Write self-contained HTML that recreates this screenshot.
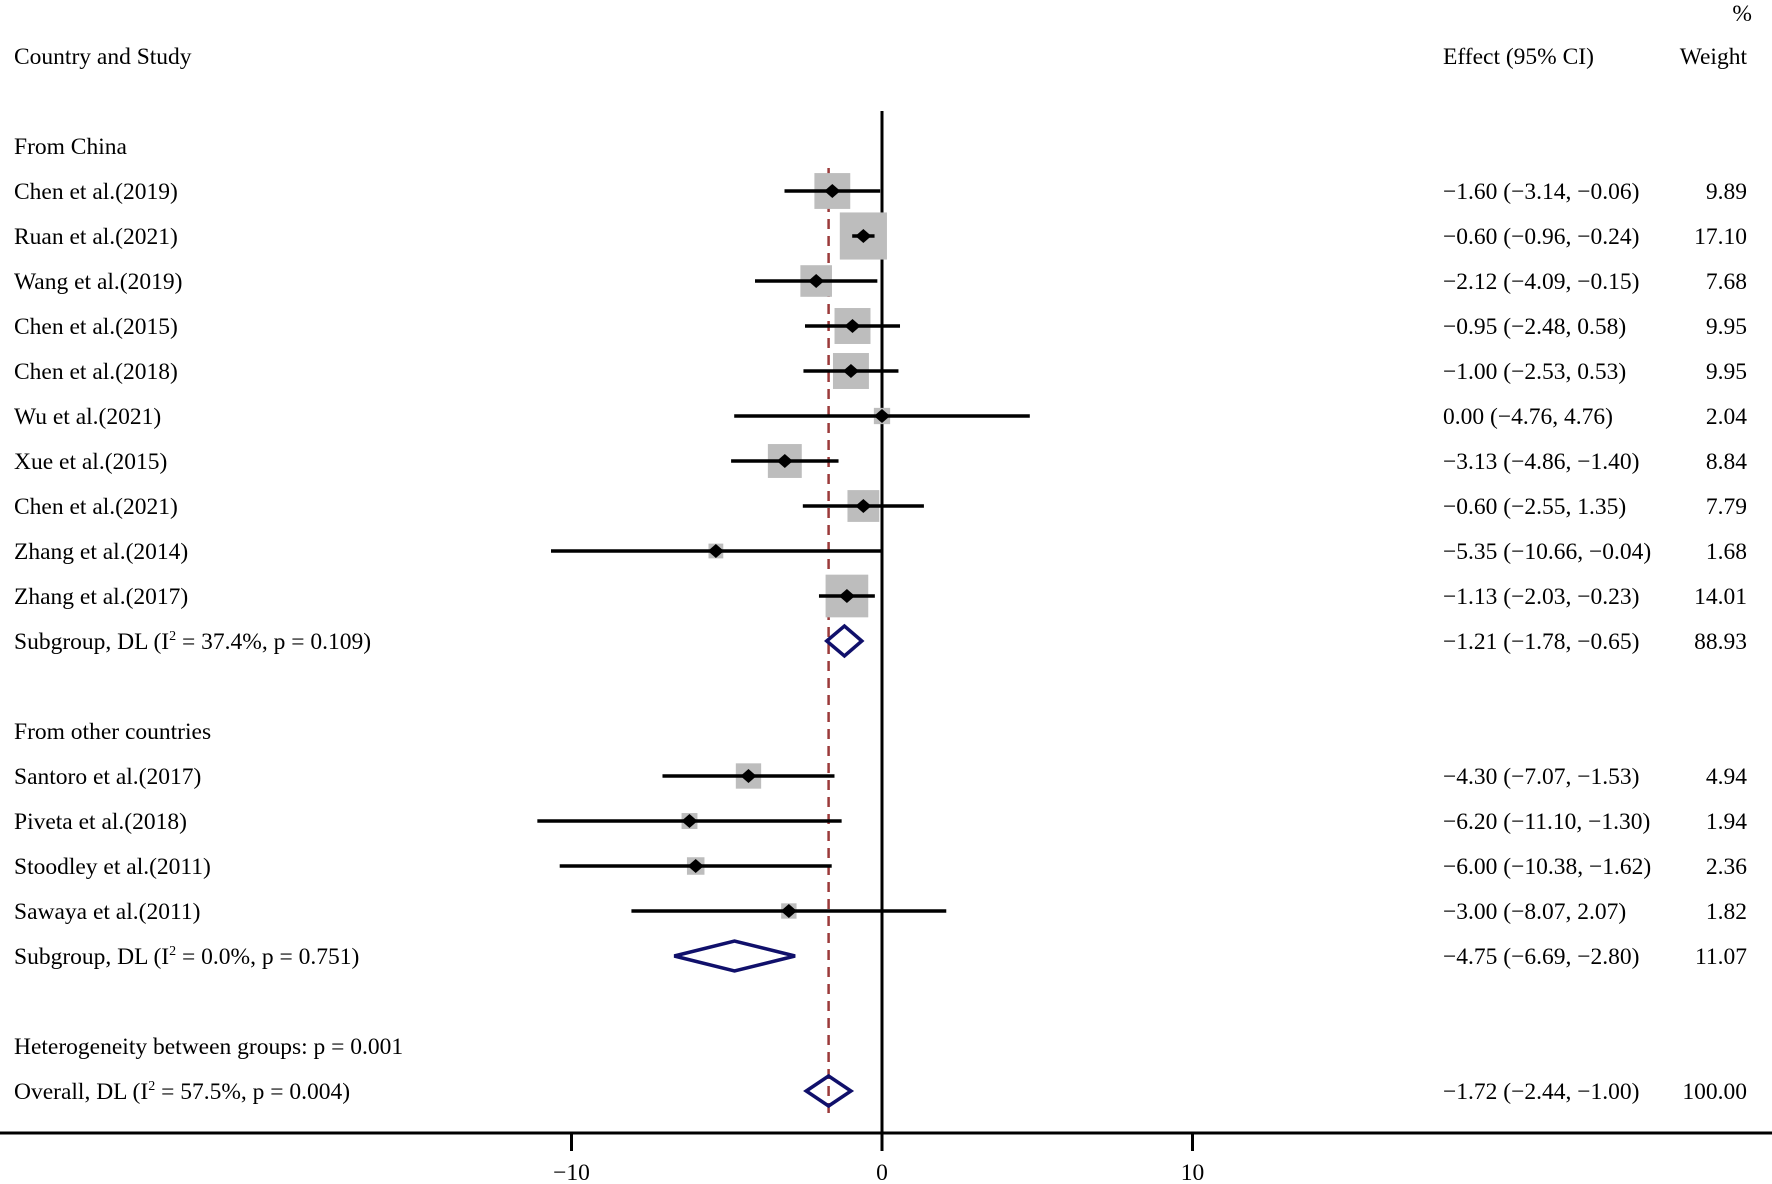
<!DOCTYPE html>
<html><head><meta charset="utf-8"><style>
html,body{margin:0;padding:0;background:#fff;}
svg{display:block;font-family:"Liberation Serif","Times New Roman",serif;}
</style></head><body>
<svg id="chart" width="1772" height="1184" viewBox="0 0 1772 1184" xmlns="http://www.w3.org/2000/svg">
<text x="1752" y="21" font-size="23.5" text-anchor="end">%</text>
<text x="14" y="64" font-size="23.5">Country and Study</text>
<text x="1443" y="64" font-size="23.5">Effect (95% CI)</text>
<text x="1747" y="64" font-size="23.5" text-anchor="end">Weight</text>
<g id="marks"></g>
</svg>
<script>
const labels = ["From China","Chen et al.(2019)","Ruan et al.(2021)","Wang et al.(2019)","Chen et al.(2015)","Chen et al.(2018)","Wu et al.(2021)","Xue et al.(2015)","Chen et al.(2021)","Zhang et al.(2014)","Zhang et al.(2017)","SUB1","","From other countries","Santoro et al.(2017)","Piveta et al.(2018)","Stoodley et al.(2011)","Sawaya et al.(2011)","SUB2","","Heterogeneity between groups: p = 0.001","OVERALL"];
const kinds = ["head","study","study","study","study","study","study","study","study","study","study","sub","blank","head","study","study","study","study","sub","blank","head","overall"];
const est = [null,-1.60,-0.60,-2.12,-0.95,-1.00,0.00,-3.13,-0.60,-5.35,-1.13,-1.21,null,null,-4.30,-6.20,-6.00,-3.00,-4.75,null,null,-1.72];
const lo = [null,-3.14,-0.96,-4.09,-2.48,-2.53,-4.76,-4.86,-2.55,-10.66,-2.03,-1.78,null,null,-7.07,-11.10,-10.38,-8.07,-6.69,null,null,-2.44];
const hi = [null,-0.06,-0.24,-0.15,0.58,0.53,4.76,-1.40,1.35,-0.04,-0.23,-0.65,null,null,-1.53,-1.30,-1.62,2.07,-2.80,null,null,-1.00];
const weights = [null,"9.89","17.10","7.68","9.95","9.95","2.04","8.84","7.79","1.68","14.01","88.93",null,null,"4.94","1.94","2.36","1.82","11.07",null,null,"100.00"];
const ciText = [null,"\u22121.60 (\u22123.14, \u22120.06)","\u22120.60 (\u22120.96, \u22120.24)","\u22122.12 (\u22124.09, \u22120.15)","\u22120.95 (\u22122.48, 0.58)","\u22121.00 (\u22122.53, 0.53)","0.00 (\u22124.76, 4.76)","\u22123.13 (\u22124.86, \u22121.40)","\u22120.60 (\u22122.55, 1.35)","\u22125.35 (\u221210.66, \u22120.04)","\u22121.13 (\u22122.03, \u22120.23)","\u22121.21 (\u22121.78, \u22120.65)",null,null,"\u22124.30 (\u22127.07, \u22121.53)","\u22126.20 (\u221211.10, \u22121.30)","\u22126.00 (\u221210.38, \u22121.62)","\u22123.00 (\u22128.07, 2.07)","\u22124.75 (\u22126.69, \u22122.80)",null,null,"\u22121.72 (\u22122.44, \u22121.00)"];
const ticks = [-10,0,10];
const tickLabels = ["\u221210","0","10"];
const overallEffect = -1.72;

const NS="http://www.w3.org/2000/svg";
const g=document.getElementById('marks');
const xs=v=>882+v*31.05;
const ys=i=>146+i*45;
const FS=23.5;
function mk(t,a){const e=document.createElementNS(NS,t);for(const k in a)e.setAttribute(k,a[k]);g.appendChild(e);return e;}
let zl=mk('line',{x1:xs(0),x2:xs(0),y1:111,y2:1133,stroke:'#000','stroke-width':3});


let ol=mk('line',{x1:xs(overallEffect),x2:xs(overallEffect),y1:168,y2:1113,stroke:'#9b3a3a','stroke-width':2.5,'stroke-dasharray':'10,7'});


let ax=mk('line',{x1:0,x2:1772,y1:1133,y2:1133,stroke:'#000','stroke-width':3});


ticks.forEach((t,i)=>{
  let tl=mk('line',{x1:xs(t),x2:xs(t),y1:1133,y2:1151,stroke:'#000','stroke-width':3});
  
  
  let tx=mk('text',{x:xs(t),y:1180,'font-size':FS,'text-anchor':'middle'});
  tx.textContent=tickLabels[i];
  
  
});
function rich(el,txt){
  const m=txt.match(/^(.*\(I)(\^2)(.*)$/);
  if(!m){el.textContent=txt;return;}
  const a=document.createElementNS(NS,'tspan');a.textContent=m[1];el.appendChild(a);
  const b=document.createElementNS(NS,'tspan');b.textContent='2';b.setAttribute('font-size','14');b.setAttribute('dy','-9');el.appendChild(b);
  const c=document.createElementNS(NS,'tspan');c.textContent=m[3];c.setAttribute('dy','9');el.appendChild(c);
}
const subLabels={SUB1:"Subgroup, DL (I^2 = 37.4%, p = 0.109)",SUB2:"Subgroup, DL (I^2 = 0.0%, p = 0.751)",OVERALL:"Overall, DL (I^2 = 57.5%, p = 0.004)"};
labels.forEach((lab,i)=>{
  const y=ys(i);
  if(kinds[i]==='blank')return;
  const t=mk('text',{x:14,y:y+8,'font-size':FS});
  rich(t,subLabels[lab]||lab);
  
  
  if(est[i]===null)return;
  if(kinds[i]==='study'){
    const s=11.4*Math.sqrt(parseFloat(weights[i]));
    const r=mk('rect',{x:xs(est[i])-s/2,y:y-s/2,width:s,height:s,fill:'#bdbdbd'});
    
    
    const l=mk('line',{x1:xs(lo[i]),x2:xs(hi[i]),y1:y,y2:y,stroke:'#000','stroke-width':3.5});
    
    
    const cx=xs(est[i]);
    const d=mk('polygon',{points:`${cx-8},${y} ${cx},${y-7} ${cx+8},${y} ${cx},${y+7}`,fill:'#000'});
    
    
  } else {
    const a=xs(lo[i]),b=xs(hi[i]),c=xs(est[i]);
    const d=mk('polygon',{points:`${a},${y} ${c},${y-15} ${b},${y} ${c},${y+15}`,fill:'none',stroke:'#10106b','stroke-width':3.5});
    
    
  }
  const e=mk('text',{x:1443,y:y+8,'font-size':FS});
  e.textContent=ciText[i];
  
  
  const w=mk('text',{x:1747,y:y+8,'font-size':FS,'text-anchor':'end'});
  w.textContent=weights[i];
  
  
});
</script>
</body></html>
